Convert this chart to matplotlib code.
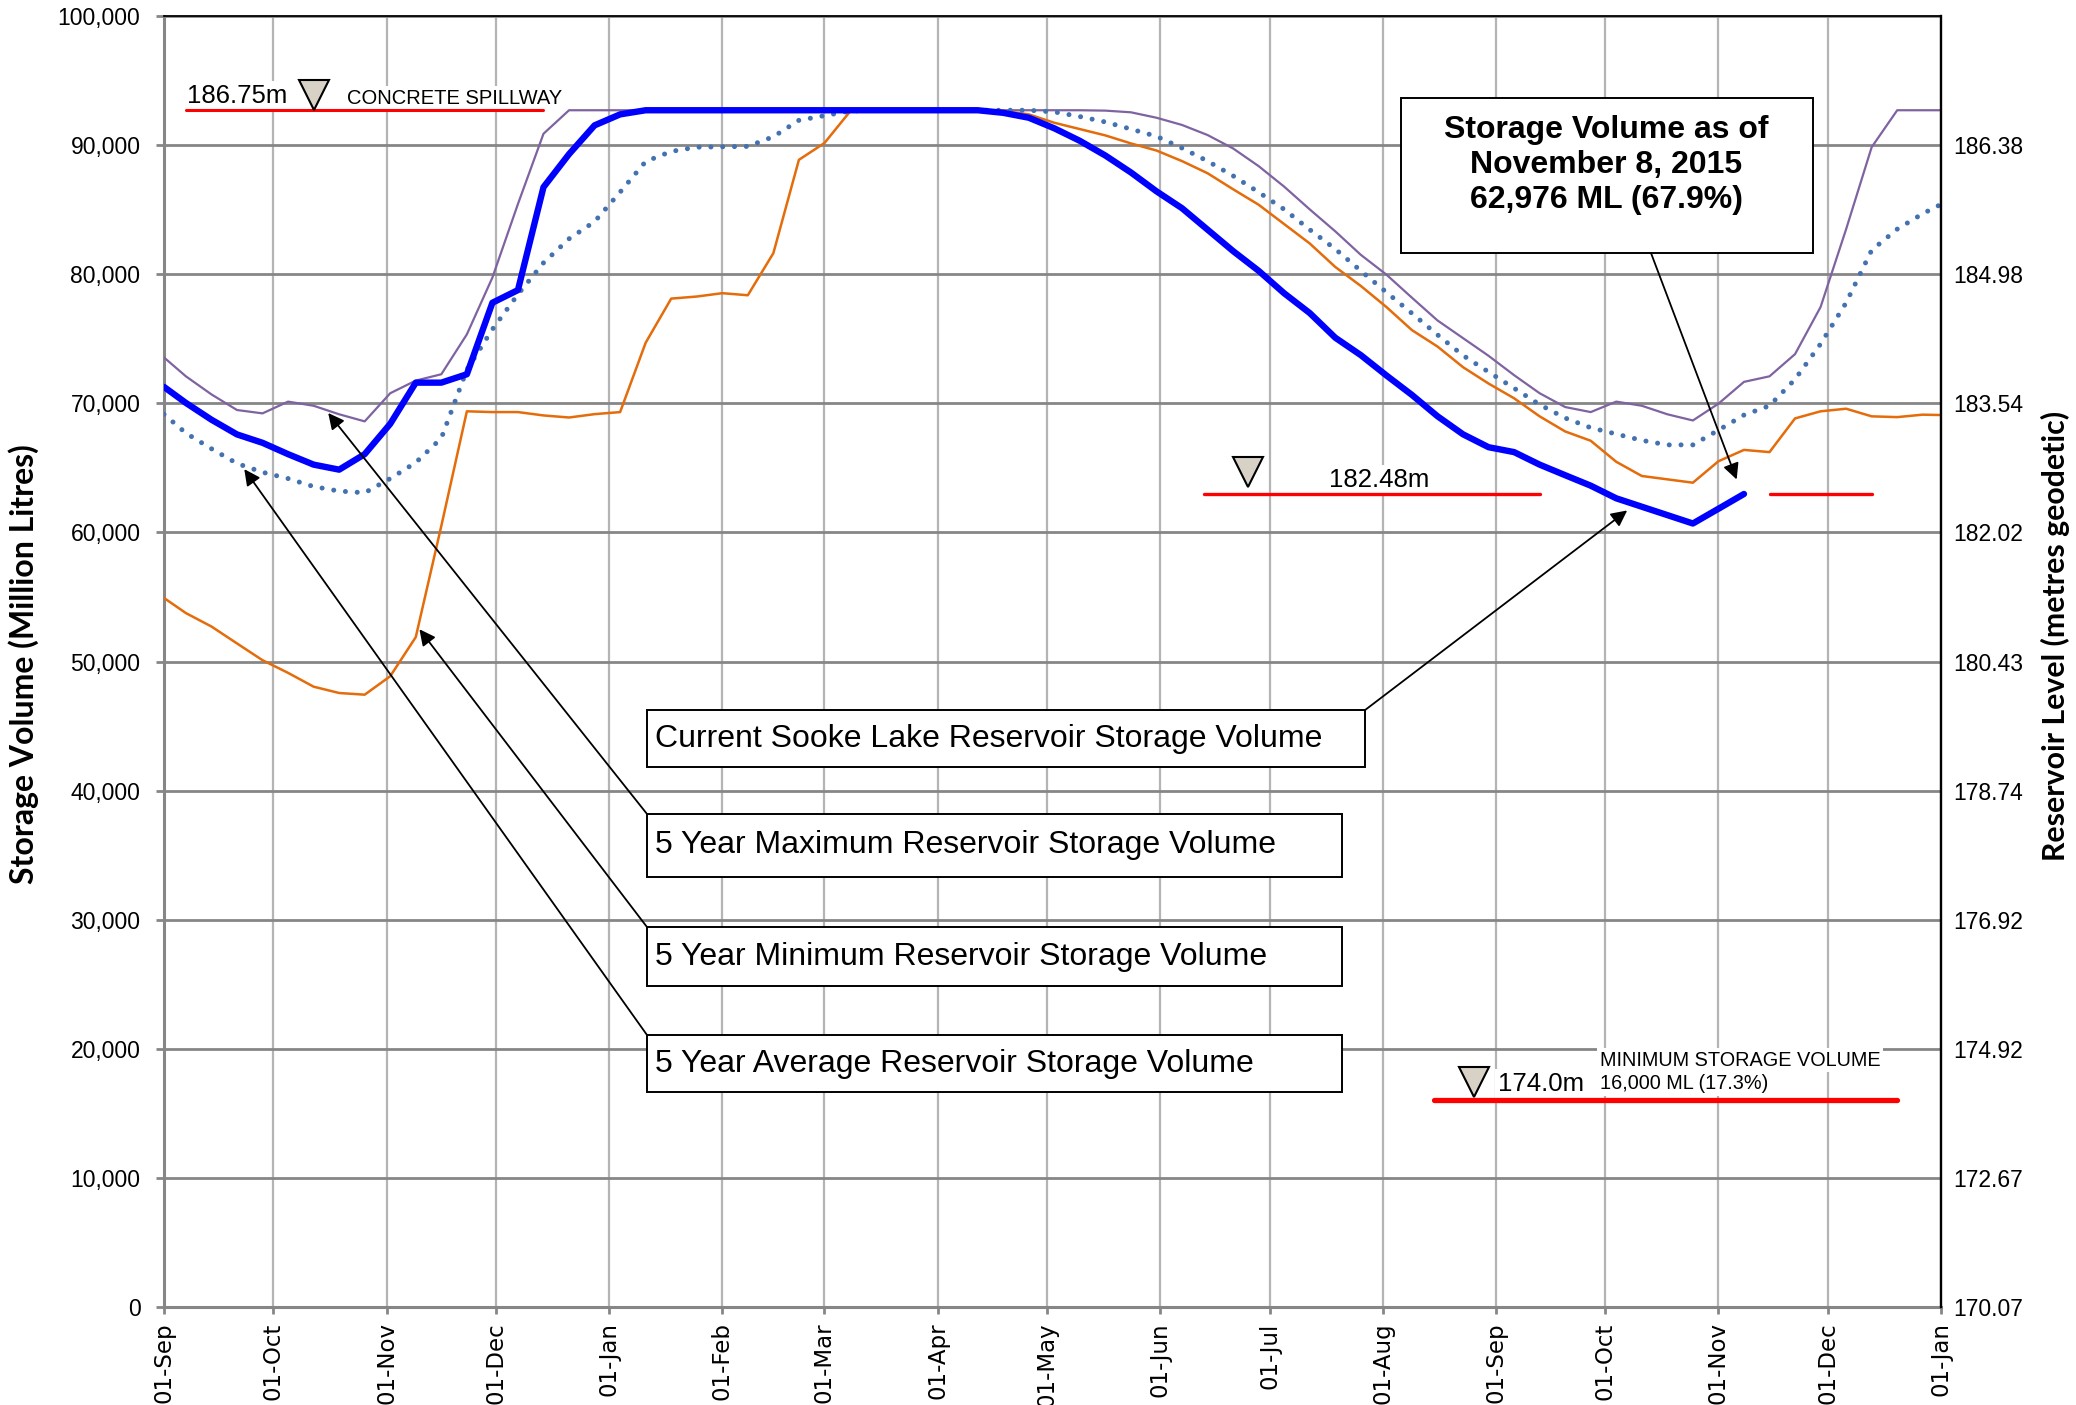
import pandas as pd
import matplotlib
matplotlib.use("Agg")
import matplotlib.pyplot as plt
import matplotlib.dates as mdates
from matplotlib import transforms
from matplotlib.patches import Rectangle

plt.rcParams['font.family'] = ['Liberation Sans', 'DejaVu Sans']

# weekly readings (Sundays) plus the first and last day of the chart
week_dates = (pd.DatetimeIndex([pd.Timestamp("2014-09-01")])
              .append(pd.date_range("2014-09-07", "2015-12-27", freq="7D"))
              .append(pd.DatetimeIndex([pd.Timestamp("2016-01-01")])))
month_ticks = pd.date_range("2014-09-01", "2016-01-01", freq="MS")

# storage volume, million litres
current_ml = [71270, 70030, 68730, 67590, 66940, 66060, 65250, 64860, 66060, 68410,
              71600, 71600, 72250, 77790, 78770, 86740, 89300, 91530, 92380, 92700,
              92700, 92700, 92700, 92700, 92700, 92700, 92700, 92700, 92700, 92700,
              92700, 92700, 92700, 92500, 92120, 91300, 90330, 89190, 87880, 86420,
              85110, 83450, 81790, 80260, 78520, 76990, 75080, 73730, 72160, 70650,
              69000, 67600, 66600, 66220, 65250, 64430, 63620, 62640, 61990, 61340,
              60690, 61830, 62976]

max5_ml = [73550, 72090, 70690, 69480, 69220, 70130, 69810, 69150, 68600, 70780,
           71760, 72250, 75340, 79740, 85440, 90880, 92700, 92700, 92700, 92700,
           92700, 92700, 92700, 92700, 92700, 92700, 92700, 92700, 92700, 92700,
           92700, 92700, 92700, 92700, 92700, 92700, 92700, 92670, 92540, 92120,
           91560, 90780, 89740, 88370, 86780, 85020, 83320, 81500, 79970, 78180,
           76420, 75050, 73680, 72180, 70780, 69710, 69320, 70130, 69810, 69150,
           68670, 69970, 71660, 72090, 73810, 77460, 83490, 89840, 92700, 92700,
           92700]

avg5_ml = [69150, 67690, 66480, 65340, 64660, 64170, 63550, 63200, 63070, 64170,
           65410, 67300, 72600, 75730, 78440, 80880, 82740, 84070, 86360, 88730,
           89510, 89840, 89870, 89900, 90650, 91920, 92280, 92640, 92700, 92700,
           92700, 92700, 92700, 92700, 92700, 92570, 92210, 91790, 91240, 90680,
           89770, 88760, 87620, 86350, 85020, 83450, 81950, 80260, 78600, 76970,
           75310, 73710, 72430, 71170, 69900, 68860, 68110, 67620, 67130, 66780,
           66780, 67920, 69090, 69810, 71860, 74600, 77790, 81860, 83490, 84690,
           85410]

min5_ml = [54920, 53750, 52710, 51400, 50100, 49120, 48050, 47560, 47430, 48860,
           51890, 60500, 69380, 69320, 69320, 69060, 68900, 69160, 69320, 74690,
           78110, 78270, 78530, 78370, 81630, 88860, 90160, 92600, 92700, 92700,
           92700, 92700, 92700, 92650, 92380, 91730, 91240, 90750, 90130, 89580,
           88760, 87820, 86580, 85380, 83880, 82380, 80560, 79090, 77460, 75670,
           74400, 72800, 71530, 70390, 68990, 67820, 67100, 65470, 64370, 64110,
           63850, 65510, 66390, 66220, 68830, 69380, 69580, 68990, 68930, 69120,
           69090]

y_ticks = [0, 10000, 20000, 30000, 40000, 50000, 60000, 70000, 80000, 90000, 100000]
level_labels = ["170.07", "172.67", "174.92", "176.92", "178.74", "180.43",
                "182.02", "183.54", "184.98", "186.38", ""]

# reference levels (ML) and the dates they are drawn across
spill_ml = 92700
spill_span = ["2014-09-07", "2014-12-14"]
current_level_ml = 62976
current_level_spans = [["2015-06-13", "2015-09-13"], ["2015-11-15", "2015-12-13"]]
min_ml = 16000
min_span = ["2015-08-15", "2015-12-20"]

fig = plt.figure(figsize=(20.76, 14.05), dpi=100)
ax = fig.add_axes([0.0790, 0.06975, 0.85597, 0.91886])

ax.set_xlim(pd.Timestamp("2014-09-01"), pd.Timestamp("2016-01-01"))
ax.set_ylim(0, 100000)
ax.set_xticks(month_ticks)
ax.xaxis.set_major_formatter(mdates.DateFormatter("%d-%b"))
ax.set_yticks(y_ticks)
ax.set_yticklabels([f"{v:,}" for v in y_ticks])
ax.tick_params(axis='x', rotation=90, labelsize=16.5, length=5, width=2,
               color='#868686', pad=6)
ax.tick_params(axis='y', labelsize=16.5, length=6, width=2, color='#868686', pad=11)
plt.setp(ax.get_xticklabels(), family='DejaVu Sans')

ax.set_axisbelow(True)
ax.xaxis.grid(True, color='#b4b4b4', lw=1.6)
ax.yaxis.grid(True, color='#868686', lw=2.0)
for s in ['left', 'bottom']:
    ax.spines[s].set_color('#868686')
    ax.spines[s].set_linewidth(2.2)
ax.spines['top'].set_color('black')
ax.spines['top'].set_linewidth(1.3)
ax.spines['right'].set_visible(False)

ax2 = ax.twinx()
ax2.set_ylim(0, 100000)
ax2.set_yticks(y_ticks)
ax2.set_yticklabels(level_labels)
ax2.tick_params(axis='y', labelsize=16.5, length=0, pad=9)
for s in ['left', 'top', 'bottom']:
    ax2.spines[s].set_visible(False)
ax2.spines['right'].set_color('black')
ax2.spines['right'].set_linewidth(1.7)

# series
ax.plot(week_dates, max5_ml, color='#7f63a1', lw=1.6, zorder=5)
ax.plot(week_dates, min5_ml, color='#e46c0a', lw=1.8, zorder=5)
ax.plot(week_dates, avg5_ml, color='#4472b0', lw=3.6, ls=(0, (0.01, 2.35)),
        dash_capstyle='round', zorder=5)
ax.plot(week_dates[:len(current_ml)], current_ml, color='#0000ff', lw=4.6,
        solid_capstyle='round', solid_joinstyle='round', zorder=6)

# reference levels
ax.plot(pd.to_datetime(spill_span), [spill_ml] * 2, color='red', lw=2.2,
        solid_capstyle='round', zorder=6)
for span in current_level_spans:
    ax.plot(pd.to_datetime(span), [current_level_ml] * 2, color='red', lw=2.4,
            solid_capstyle='round', zorder=6)
ax.plot(pd.to_datetime(min_span), [min_ml] * 2, color='red', lw=3.8,
        solid_capstyle='round', zorder=6)

tri_ms = 21.5
tip = transforms.offset_copy(ax.transData, fig=fig, y=tri_ms / 2, units='points')
for d, v in [("2014-10-12", spill_ml), ("2015-06-25", 63500), ("2015-08-26", 16300)]:
    ax.plot([pd.Timestamp(d)], [v], marker='v', ms=tri_ms, mfc='#d8d1c5', mec='black',
            mew=1.5, transform=tip, zorder=7, clip_on=False)

white = dict(facecolor='white', edgecolor='none', pad=2)
ax.text(0.0132, 0.9326, "186.75m", transform=ax.transAxes, fontsize=18.5,
        va='baseline', bbox=white, zorder=4)
ax.text(0.103, 0.9318, "CONCRETE SPILLWAY", transform=ax.transAxes, fontsize=14.5,
        va='baseline', bbox=white, zorder=4)
ax.text(0.6556, 0.635, "182.48m", transform=ax.transAxes, fontsize=18.5,
        va='baseline', bbox=white, zorder=4)
ax.text(0.7507, 0.1673, "174.0m", transform=ax.transAxes, fontsize=18.5,
        va='baseline', bbox=white, zorder=4)
ax.text(0.808, 0.1869, "MINIMUM STORAGE VOLUME", transform=ax.transAxes,
        fontsize=14.3, va='baseline', bbox=white, zorder=4)
ax.text(0.808, 0.1689, "16,000 ML (17.3%)", transform=ax.transAxes,
        fontsize=14.3, va='baseline', bbox=white, zorder=4)

# call-out boxes: (left, bottom, width, height) in axes fraction
boxes = [
    ((0.2718, 0.4183, 0.4041, 0.0441), "Current Sooke Lake Reservoir Storage Volume"),
    ((0.2718, 0.3331, 0.3911, 0.0488), "5 Year Maximum Reservoir Storage Volume"),
    ((0.2718, 0.2486, 0.3911, 0.0457), "5 Year Minimum Reservoir Storage Volume"),
    ((0.2718, 0.1665, 0.3911, 0.0442), "5 Year Average Reservoir Storage Volume"),
]
for (x0, y0, w, h), label in boxes:
    ax.add_patch(Rectangle((x0, y0), w, h, transform=ax.transAxes, facecolor='white',
                           edgecolor='black', lw=1.4, zorder=8))
    ax.text(x0 + 0.0045, y0 + h / 2, label, transform=ax.transAxes, fontsize=23,
            va='center', ha='left', zorder=9)

ax.add_patch(Rectangle((0.6961, 0.8164), 0.2319, 0.1201, transform=ax.transAxes,
                       facecolor='white', edgecolor='black', lw=1.4, zorder=8))
ax.text(0.8115, 0.8849, "Storage Volume as of\nNovember 8, 2015\n62,976 ML (67.9%)",
        transform=ax.transAxes, fontsize=23, fontweight='bold', ha='center',
        va='center', linespacing=1.22, zorder=9)

# arrows: start (axes fraction) -> target (date, ML)
arrows = [
    ((0.6759, 0.4624), ("2015-10-07", 61700)),
    ((0.2718, 0.3819), ("2014-10-16", 69250)),
    ((0.2718, 0.2943), ("2014-11-10", 52500)),
    ((0.2718, 0.2107), ("2014-09-23", 64900)),
    ((0.8368, 0.8164), ("2015-11-06", 64100)),
]
for start, (d, v) in arrows:
    ax.annotate("", xy=(pd.Timestamp(d), v), xycoords='data', xytext=start,
                textcoords='axes fraction',
                arrowprops=dict(arrowstyle='-|>', color='black', lw=1.3,
                                mutation_scale=24, shrinkA=0, shrinkB=0),
                zorder=8)

fig.text(24 / 2076, 1 - 664 / 1405, "Storage Volume (Million Litres)", family='Lato',
         fontweight='bold', fontsize=23, rotation=90, ha='center', va='center')
fig.text(2055 / 2076, 1 - 636 / 1405, "Reservoir Level (metres geodetic)", family='Lato',
         fontweight='bold', fontsize=21.8, rotation=90, ha='center', va='center')

fig.savefig("out.png", dpi=100)
